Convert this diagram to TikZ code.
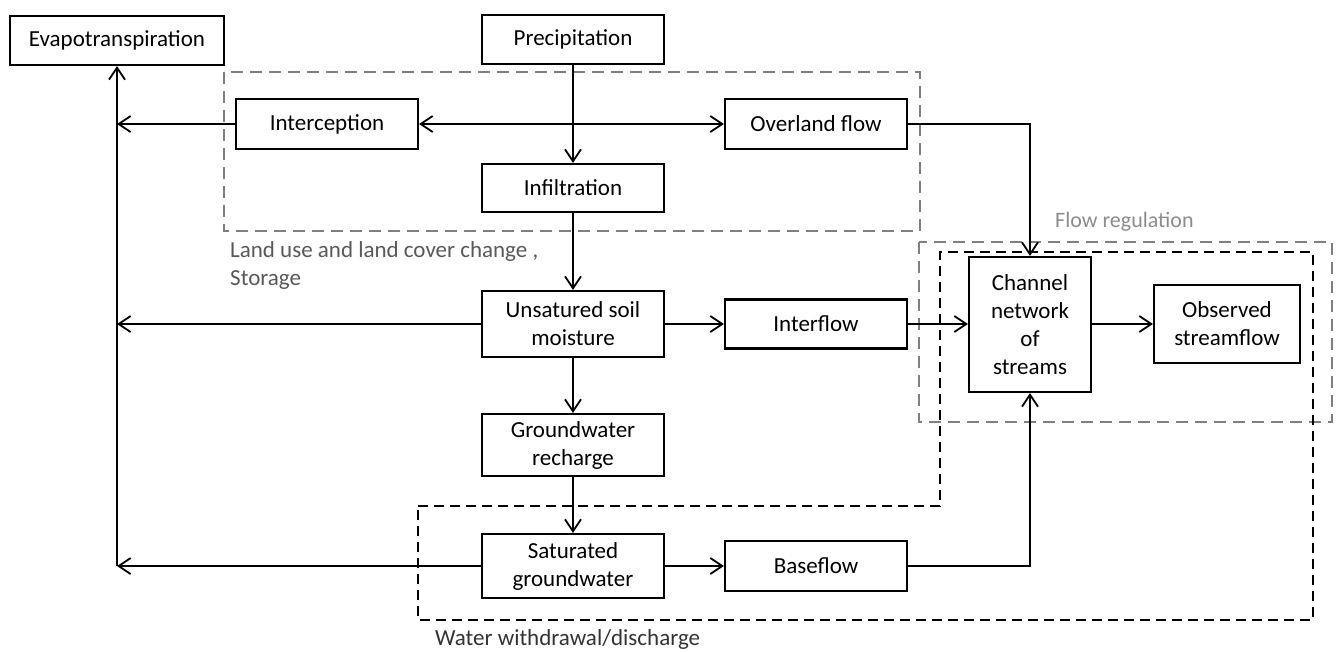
\documentclass[tikz,border=0pt]{standalone}
\usepackage{fontspec}
\setmainfont{Carlito}
\usetikzlibrary{arrows.meta}
\definecolor{dashgray}{HTML}{7F7F7F}
\definecolor{labelgray}{HTML}{595959}
\definecolor{flowgray}{HTML}{8C8C8C}
\definecolor{wwgray}{HTML}{333333}
\begin{document}
\begin{tikzpicture}[x=1pt,y=-1pt,
  >={Straight Barb[length=12pt,width=16pt]},
  box/.style={draw, line width=2.2pt, fill=white, minimum width=182pt, inner sep=0pt, align=center, font=\fontsize{23}{28}\selectfont},
  conn/.style={line width=1.8pt},
  graydash/.style={draw=dashgray, line width=2.8pt, dash pattern=on 12pt off 7pt},
  blackdash/.style={draw=black, line width=2.8pt, dash pattern=on 10pt off 6pt},
  lbl/.style={anchor=base west, inner sep=0pt, align=left, font=\fontsize{23}{28}\selectfont}
]
\useasboundingbox (0,0) rectangle (1339,651);
% dashed regions
\draw[graydash] (224,72) rectangle (920,231);
\draw[graydash] (919,242) rectangle (1332,422);
\draw[blackdash] (418,506) -- (940,506) -- (940,252) -- (1313,252) -- (1313,620) -- (418,620) -- cycle;
% labels
\node[lbl, text=labelgray] (lu) at (230,257) {Land use and land cover change ,};
\node[lbl, text=labelgray] (st) at (230,285) {Storage};
\node[lbl, text=flowgray, font=\fontsize{22}{26}\selectfont] (fr) at (1055,227) {Flow regulation};
\node[lbl, text=wwgray] (ww) at (435,645) {Water withdrawal/discharge};
% boxes
\node[box, minimum width=214pt, minimum height=49pt] (evap) at (117,40.5) {Evapotranspiration};
\node[box, minimum height=49pt] (precip) at (573,39.5) {Precipitation};
\node[box, minimum height=50pt] (intercept) at (327,124) {Interception};
\node[box, minimum height=50pt] (overland) at (816,124) {Overland flow};
\node[box, minimum height=48pt] (infil) at (573,188) {Infiltration};
\node[box, minimum height=66pt] (unsat) at (573,324) {Unsatured soil\\moisture};
\node[box, minimum height=49pt] (interflow) at (816,324) {Interflow};
\node[box, minimum height=62pt] (gwr) at (573,445) {Groundwater\\recharge};
\node[box, minimum height=64pt] (sat) at (573,566) {Saturated\\groundwater};
\node[box, minimum height=50pt] (base) at (816,566) {Baseflow};
\node[box, minimum width=122pt, minimum height=135pt] (channel) at (1030,324.5) {Channel\\network\\of\\streams};
\node[box, minimum width=146pt, minimum height=78pt] (obs) at (1227,324) {Observed\\streamflow};
% junction coordinates on the evapotranspiration trunk
\coordinate (e1) at (117,124);
\coordinate (e2) at (117,324);
\coordinate (e3) at (117,566);
% connectors
\draw[conn,->] (e3) -- (evap.south);
\draw[conn,->] (intercept.west) -- (e1);
\draw[conn,->] (unsat.west) -- (e2);
\draw[conn,->] (sat.west) -- (e3);
\draw[conn,->] (precip.south) -- (infil.north);
\draw[conn,<->] (intercept.east) -- (overland.west);
\draw[conn,->] (infil.south) -- (unsat.north);
\draw[conn,->] (unsat.east) -- (interflow.west);
\draw[conn,->] (interflow.east) -- (channel.west |- interflow.east);
\draw[conn,->] (unsat.south) -- (gwr.north);
\draw[conn,->] (gwr.south) -- (sat.north);
\draw[conn,->] (sat.east) -- (base.west);
\draw[conn,->] (overland.east) -| (channel.north);
\draw[conn,->] (base.east) -| (channel.south);
\draw[conn,->] (channel.east |- obs.west) -- (obs.west);
\end{tikzpicture}
\end{document}
